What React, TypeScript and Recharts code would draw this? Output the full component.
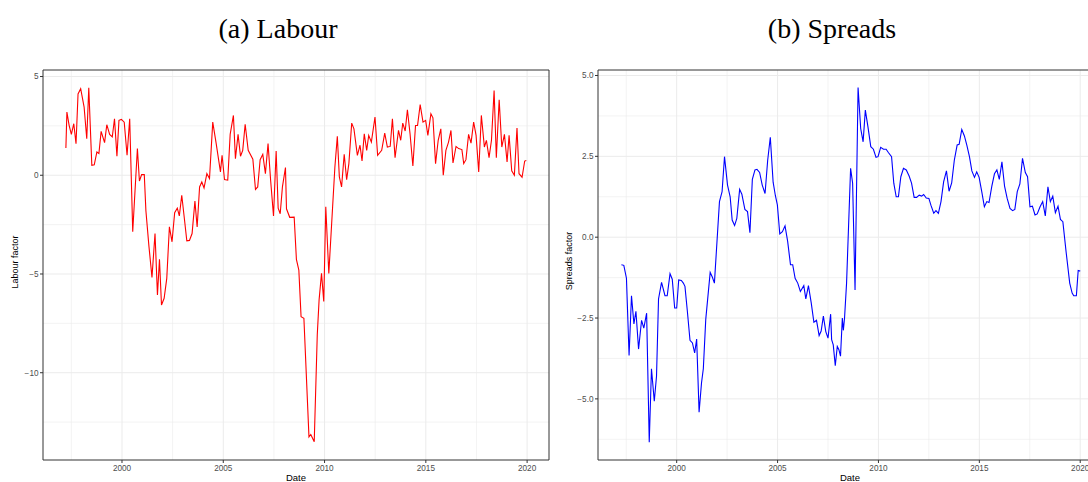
import React from 'react';
import { LineChart, Line, XAxis, YAxis, CartesianGrid, ReferenceArea } from 'recharts';

// ---------- data ----------
const labourDates = [
  1997.23, 1997.28, 1997.39, 1997.5, 1997.62, 1997.73, 1997.83, 1997.96, 1998.13, 1998.26,
  1998.36, 1998.51, 1998.63, 1998.76, 1998.86, 1998.97, 1999.14, 1999.25, 1999.39, 1999.52,
  1999.63, 1999.75, 1999.85, 1999.97, 2000.11, 2000.25, 2000.38, 2000.53, 2000.76, 2000.86,
  2000.97, 2001.1, 2001.18, 2001.33, 2001.48, 2001.63, 2001.75, 2001.85, 2001.95, 2002.08,
  2002.21, 2002.34, 2002.47, 2002.6, 2002.73, 2002.83, 2002.95, 2003.08, 2003.2, 2003.33,
  2003.46, 2003.6, 2003.71, 2003.83, 2003.94, 2004.05, 2004.19, 2004.32, 2004.48, 2004.65,
  2004.86, 2004.94, 2005.06, 2005.22, 2005.34, 2005.5, 2005.6, 2005.73, 2005.85, 2005.96,
  2006.08, 2006.23, 2006.46, 2006.59, 2006.7, 2006.82, 2006.95, 2007.08, 2007.21, 2007.34,
  2007.48, 2007.61, 2007.71, 2007.81, 2007.92, 2008.07, 2008.12, 2008.28, 2008.5, 2008.61,
  2008.73, 2008.84, 2008.98, 2009.23, 2009.32, 2009.49, 2009.64, 2009.73, 2009.85, 2009.96,
  2010.06, 2010.21, 2010.51, 2010.63, 2010.73, 2010.84, 2010.97, 2011.09, 2011.2, 2011.34,
  2011.45, 2011.62, 2011.75, 2011.85, 2011.96, 2012.08, 2012.18, 2012.31, 2012.49, 2012.62,
  2012.82, 2012.97, 2013.1, 2013.24, 2013.35, 2013.48, 2013.65, 2013.76, 2013.86, 2013.98,
  2014.09, 2014.22, 2014.36, 2014.49, 2014.59, 2014.72, 2014.86, 2014.99, 2015.1, 2015.25,
  2015.35, 2015.48, 2015.61, 2015.74, 2015.86, 2015.99, 2016.12, 2016.24, 2016.34, 2016.49,
  2016.62, 2016.78, 2016.87, 2016.98, 2017.11, 2017.23, 2017.36, 2017.48, 2017.61, 2017.74,
  2017.89, 2017.99, 2018.12, 2018.24, 2018.37, 2018.48, 2018.62, 2018.75, 2018.88, 2019.01,
  2019.11, 2019.24, 2019.37, 2019.5, 2019.6, 2019.75, 2019.88, 2019.96,
];
const labourValues = [
  1.38, 3.2, 2.53, 2.07, 2.61, 1.6, 4.12, 4.38, 3.45, 1.85,
  4.43, 0.5, 0.53, 1.18, 1.1, 2.22, 1.65, 2.56, 2.07, 1.94,
  2.86, 0.96, 2.78, 2.83, 2.69, 1.01, 2.86, -2.86, 1.35, -0.29,
  0.03, 0.03, -1.8, -3.6, -5.17, -2.95, -6.06, -4.26, -6.57, -6.23,
  -5.22, -2.61, -3.37, -1.9, -1.67, -2.06, -1.01, -2.2, -3.32, -3.3,
  -2.95, -1.31, -2.62, -0.59, -0.34, -0.64, 0.08, -0.17, 2.69, 1.6,
  0.17, 1.01, -0.22, -0.25, 2.07, 3.03, 0.84, 2.07, 0.96, 1.26,
  2.58, 1.26, 0.81, -0.72, -0.59, 0.79, 1.06, 0.08, 1.6, -0.29,
  -2.06, 1.23, -1.67, -1.95, -0.59, 0.39, -1.7, -2.13, -2.12, -4.26,
  -4.8, -7.16, -7.24, -13.25, -13.13, -13.5, -8.08, -6.31, -4.97, -6.39,
  -1.6, -4.97, 0.42, 1.97, -0.08, -0.59, 1.06, -0.22, 0.59, 2.64,
  2.35, 1.01, 1.52, 0.72, 2.1, 1.26, 2.02, 1.68, 2.95, 1.01,
  1.26, 2.13, 1.43, 1.46, 2.86, 0.89, 2.27, 1.77, 2.64, 2.24,
  3.32, 2.1, 0.47, 2.52, 2.52, 3.58, 2.69, 2.78, 2.02, 3.11,
  2.91, 0.59, 1.77, 2.35, 0.0, 1.26, 1.68, 2.27, 0.62, 1.46,
  1.35, 1.3, 0.59, 0.79, 2.07, 1.63, 2.69, 2.02, 0.17, 3.03,
  1.43, 1.77, 0.89, 1.77, 4.29, 0.89, 3.82, 1.43, 2.07, 0.67,
  2.02, 0.22, 0.0, 2.39, 0.08, -0.1, 0.72, 0.75,
];

const spreadDates = [
  1997.26, 1997.38, 1997.51, 1997.64, 1997.76, 1997.88, 1997.98, 1998.11, 1998.26, 1998.37,
  1998.51, 1998.64, 1998.75, 1998.89, 1999.0, 1999.1, 1999.25, 1999.42, 1999.53, 1999.67,
  1999.78, 1999.9, 2000.0, 2000.1, 2000.23, 2000.33, 2000.41, 2000.53, 2000.66, 2000.78,
  2000.89, 2000.99, 2001.11, 2001.23, 2001.32, 2001.44, 2001.66, 2001.77, 2001.87, 2002.12,
  2002.25, 2002.37, 2002.52, 2002.65, 2002.75, 2002.87, 2002.98, 2003.12, 2003.23, 2003.38,
  2003.51, 2003.63, 2003.75, 2003.88, 2003.98, 2004.11, 2004.24, 2004.38, 2004.51, 2004.64,
  2004.78, 2004.89, 2004.99, 2005.11, 2005.24, 2005.37, 2005.5, 2005.64, 2005.75, 2005.87,
  2006.0, 2006.13, 2006.3, 2006.4, 2006.53, 2006.67, 2006.8, 2006.93, 2007.06, 2007.16,
  2007.27, 2007.39, 2007.5, 2007.63, 2007.68, 2007.76, 2007.86, 2007.96, 2008.04, 2008.12,
  2008.21, 2008.26, 2008.32, 2008.42, 2008.62, 2008.72, 2008.84, 2008.99, 2009.12, 2009.24,
  2009.35, 2009.48, 2009.62, 2009.75, 2009.88, 2009.98, 2010.11, 2010.25, 2010.38, 2010.5,
  2010.65, 2010.76, 2010.88, 2010.99, 2011.11, 2011.24, 2011.38, 2011.52, 2011.64, 2011.77,
  2011.89, 2012.02, 2012.14, 2012.24, 2012.37, 2012.5, 2012.6, 2012.74, 2012.85, 2012.97,
  2013.1, 2013.23, 2013.37, 2013.5, 2013.63, 2013.76, 2013.9, 2014.0, 2014.13, 2014.26,
  2014.38, 2014.51, 2014.63, 2014.76, 2014.87, 2014.99, 2015.12, 2015.25, 2015.37, 2015.48,
  2015.62, 2015.75, 2015.87, 2015.99, 2016.12, 2016.25, 2016.38, 2016.52, 2016.65, 2016.76,
  2016.88, 2017.01, 2017.14, 2017.28, 2017.39, 2017.51, 2017.63, 2017.76, 2017.87, 2018.01,
  2018.14, 2018.27, 2018.4, 2018.52, 2018.64, 2018.77, 2018.9, 2019.02, 2019.14, 2019.3,
  2019.48, 2019.6, 2019.68, 2019.81, 2019.9, 2020.0,
];
const spreadValues = [
  -0.85, -0.87, -1.27, -3.66, -1.81, -2.68, -2.29, -3.46, -2.57, -2.81,
  -2.35, -6.34, -4.07, -5.07, -4.3, -1.91, -1.4, -1.81, -1.81, -1.13,
  -1.3, -2.19, -2.19, -1.32, -1.34, -1.42, -1.52, -2.3, -3.19, -3.27,
  -3.58, -3.15, -5.41, -4.51, -4.07, -2.55, -1.09, -1.24, -1.42, 1.1,
  1.41, 2.49, 1.61, 1.25, 0.53, 0.36, 0.58, 1.48, 1.33, 0.86,
  0.79, 0.14, 1.79, 2.08, 2.1, 2.0, 1.61, 1.35, 2.38, 3.09,
  1.7, 1.29, 1.0, 0.1, 0.17, 0.35, -0.13, -0.85, -0.85, -1.27,
  -1.42, -1.68, -1.5, -1.91, -1.5, -2.04, -2.63, -2.57, -3.04, -2.9,
  -2.44, -2.92, -3.12, -2.38, -3.17, -3.33, -3.97, -3.38, -3.48, -3.68,
  -2.5, -2.88, -2.5, -1.42, 2.13, 1.67, -1.63, 4.63, 3.36, 2.95,
  3.93, 3.41, 2.8, 2.72, 2.47, 2.49, 2.78, 2.72, 2.72, 2.61,
  2.49, 1.67, 1.25, 1.25, 1.87, 2.13, 2.08, 1.89, 1.67, 1.23,
  1.23, 1.3, 1.27, 1.32, 1.21, 1.2, 0.99, 0.74, 0.82, 0.74,
  1.1, 1.71, 2.05, 1.42, 1.68, 2.38, 2.85, 2.87, 3.33, 3.13,
  2.85, 2.49, 2.05, 1.85, 2.02, 1.85, 1.41, 0.94, 1.1, 1.07,
  1.58, 1.96, 2.08, 1.79, 2.33, 1.58, 1.2, 0.89, 0.82, 0.86,
  1.41, 1.65, 2.44, 2.0, 1.87, 0.94, 0.96, 0.69, 0.72, 0.94,
  1.1, 0.66, 1.56, 1.1, 1.27, 0.76, 0.96, 0.55, 0.48, -0.45,
  -1.42, -1.73, -1.81, -1.81, -1.03, -1.05,
];

const xTicks = [2000, 2005, 2010, 2015, 2020];
const xMinor = [1997.5, 2002.5, 2007.5, 2012.5, 2017.5];
const xDomain = [1996.1, 2021.08];

const labourTicks = [-10, -5, 0, 5];
const labourMinor = [-12.5, -7.5, -2.5, 2.5];
const labourDomain = [-14.42, 5.33];

const spreadTicks = [-5, -2.5, 0, 2.5, 5];
const spreadMinor = [-6.25, -3.75, -1.25, 1.25, 3.75];
const spreadDomain = [-6.89, 5.17];

const labourData = labourDates.map((t, i) => ({ t, v: labourValues[i] }));
const spreadData = spreadDates.map((t, i) => ({ t, v: spreadValues[i] }));

const minus = (s: string) => s.replace('-', '\u2212');
const fmtLabour = (v: number) => minus(String(v));
const fmtSpread = (v: number) => minus(v.toFixed(1));

const tickStyle = { fontFamily: '"Liberation Sans", Arial, sans-serif', fontSize: 8.2, fill: '#4d4d4d' };

type PanelProps = {
  data: { t: number; v: number }[];
  color: string;
  yDomain: number[];
  yTicks: number[];
  yMinor: number[];
  fmt: (v: number) => string;
  left: number;
  width: number;
  marginLeft: number;
  marginRight: number;
};

function Panel(p: PanelProps) {
  return (
    <div style={{ position: 'absolute', left: p.left, top: 0 }}>
      <LineChart
        width={p.width}
        height={482}
        data={p.data}
        margin={{ top: 70, right: p.marginRight, bottom: 2, left: p.marginLeft }}
      >
        <CartesianGrid
          stroke="#ebebeb"
          strokeWidth={0.6}
          horizontalValues={p.yMinor}
          verticalValues={xMinor}
        />
        <CartesianGrid
          stroke="#ebebeb"
          strokeWidth={1}
          horizontalValues={p.yTicks}
          verticalValues={xTicks}
        />
        <XAxis
          dataKey="t"
          type="number"
          domain={xDomain}
          allowDataOverflow
          ticks={xTicks}
          height={20}
          tickSize={3}
          tickMargin={2}
          axisLine={false}
          tickLine={{ stroke: '#333333' }}
          tick={tickStyle}
          interval={0}
        />
        <YAxis
          type="number"
          domain={p.yDomain}
          allowDataOverflow
          ticks={p.yTicks}
          width={30}
          tickSize={3}
          tickMargin={1.5}
          axisLine={false}
          tickLine={{ stroke: '#333333' }}
          tick={tickStyle}
          tickFormatter={p.fmt}
          interval={0}
        />
        <Line
          type="linear"
          dataKey="v"
          stroke={p.color}
          strokeWidth={1.1}
          dot={false}
          activeDot={false}
          isAnimationActive={false}
        />
        <ReferenceArea
          x1={xDomain[0]}
          x2={xDomain[1]}
          y1={p.yDomain[0]}
          y2={p.yDomain[1]}
          fill="none"
          fillOpacity={0}
          stroke="#333333"
          strokeWidth={1}
          ifOverflow="visible"
        />
      </LineChart>
    </div>
  );
}

const serif = '"Liberation Serif", "Times New Roman", serif';
const sans = '"Liberation Sans", Arial, sans-serif';

export default function App() {
  return (
    <div
      style={{
        position: 'fixed',
        left: 0,
        top: 0,
        width: 1088,
        height: 482,
        overflow: 'hidden',
        background: '#ffffff',
      }}
    >
      <Panel
        data={labourData}
        color="#ff0000"
        yDomain={labourDomain}
        yTicks={labourTicks}
        yMinor={labourMinor}
        fmt={fmtLabour}
        left={0}
        width={560}
        marginLeft={13}
        marginRight={11}
      />
      <Panel
        data={spreadData}
        color="#0000ff"
        yDomain={spreadDomain}
        yTicks={spreadTicks}
        yMinor={spreadMinor}
        fmt={fmtSpread}
        left={556}
        width={556}
        marginLeft={12}
        marginRight={10}
      />
      <svg
        width={1088}
        height={482}
        style={{ position: 'absolute', left: 0, top: 0, pointerEvents: 'none' }}
      >
        <text x={278} y={38.3} textAnchor="middle" fontFamily={serif} fontSize={28} fill="#000">
          (a) Labour
        </text>
        <text x={832} y={38.3} textAnchor="middle" fontFamily={serif} fontSize={28} fill="#000">
          (b) Spreads
        </text>
        <text
          x={18.3}
          y={262}
          textAnchor="middle"
          fontFamily={sans}
          fontSize={9}
          fill="#000"
          transform="rotate(-90 18.3 262)"
        >
          Labour factor
        </text>
        <text
          x={571.5}
          y={261}
          textAnchor="middle"
          fontFamily={sans}
          fontSize={9}
          fill="#000"
          transform="rotate(-90 571.5 261)"
        >
          Spreads factor
        </text>
        <text x={296} y={481} textAnchor="middle" fontFamily={sans} fontSize={9.5} fill="#000">
          Date
        </text>
        <text x={850} y={481} textAnchor="middle" fontFamily={sans} fontSize={9.5} fill="#000">
          Date
        </text>
      </svg>
    </div>
  );
}
